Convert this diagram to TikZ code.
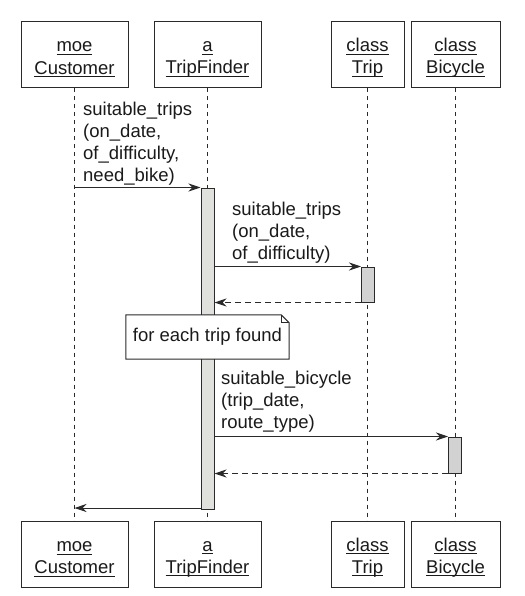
\documentclass[tikz,border=0pt]{standalone}
\usepackage{fontspec}
\setmainfont{Liberation Sans}
\usetikzlibrary{arrows.meta}
\definecolor{ink}{HTML}{2A2A2A}
\definecolor{txt}{HTML}{1A1A1A}
\definecolor{actA}{HTML}{E0E0DC}
\definecolor{actB}{HTML}{D2D2D2}
\newcommand\ulx[1]{\setbox0\hbox{#1}\rlap{\rule[-3pt]{\wd0}{0.9pt}}\box0}
\newcommand\tstr{\rule[-3pt]{0pt}{22.2pt}}
\begin{document}
\begin{tikzpicture}[x=1pt,y=-1pt,
  every node/.style={font=\fontsize{18.5}{22.2}\selectfont, text=txt},
  obj/.style={draw=ink, line width=1pt, fill=white, minimum height=66pt, align=center, inner sep=0pt},
  life/.style={draw=ink, line width=0.8pt, dash pattern=on 4pt off 4pt},
  act/.style={draw=ink, line width=1pt, inner sep=0pt, minimum width=13pt},
  msg/.style={draw=ink, line width=1pt, -{Stealth[length=12pt,width=8pt,inset=4pt]}},
  ret/.style={msg, dash pattern=on 6pt off 4pt},
  lbl/.style={anchor=north west, align=left, inner sep=0pt}]
\useasboundingbox[fill=white] (0,0) rectangle (524,596);
% objects top
\node[obj, minimum width=107pt] (cT) at (74.5,55) {\tstr\ulx{moe}\\\tstr\ulx{Customer}};
\node[obj, minimum width=107pt] (fT) at (207.5,55) {\tstr\ulx{a}\\\tstr\ulx{TripFinder}};
\node[obj, minimum width=73pt] (tT) at (367.5,55) {\tstr\ulx{class}\\\tstr\ulx{Trip}};
\node[obj, minimum width=89pt] (bT) at (455.5,55) {\tstr\ulx{class}\\\tstr\ulx{Bicycle}};
% objects bottom
\node[obj, minimum width=107pt] (cB) at (74.5,554.5) {\tstr\ulx{moe}\\\tstr\ulx{Customer}};
\node[obj, minimum width=107pt] (fB) at (207.5,554.5) {\tstr\ulx{a}\\\tstr\ulx{TripFinder}};
\node[obj, minimum width=73pt] (tB) at (367.5,554.5) {\tstr\ulx{class}\\\tstr\ulx{Trip}};
\node[obj, minimum width=89pt] (bB) at (455.5,554.5) {\tstr\ulx{class}\\\tstr\ulx{Bicycle}};
% lifelines
\draw[life] (cT) -- (cB);
\draw[life] (fT) -- (fB);
\draw[life] (tT) -- (tB);
\draw[life] (bT) -- (bB);
% activations
\node[act, fill=actA, minimum height=321pt] (a1) at (207.5,348.5) {};
\node[act, fill=actB, minimum height=35pt] (a2) at (368,284.5) {};
\node[act, fill=actB, minimum height=36pt] (a3) at (455,455) {};
% messages
\draw[msg] (cT |- a1.north west) -- (a1.north west);
\node[lbl] (l1) at (83,101.7) {suitable\_trips\\(on\_date,\\of\_difficulty,\\need\_bike)};
\draw[msg] (a1.east |- a2.north west) -- (a2.north west);
\node[lbl] (l2) at (232,201.7) {suitable\_trips\\(on\_date,\\of\_difficulty)};
\draw[ret] (a2.south west) -- (a1.east |- a2.south west);
% note
\node[fill=white, minimum width=163pt, minimum height=44pt, inner sep=0pt] (note) at (207.5,337) {for each trip found};
\draw[draw=ink, line width=1pt] (note.north west) -- ([xshift=-8pt]note.north east) -- ([yshift=-8pt]note.north east) -- (note.south east) -- (note.south west) -- cycle;
\draw[draw=ink, line width=0.8pt] ([xshift=-8pt]note.north east) -- ([xshift=-8pt,yshift=-8pt]note.north east) -- ([yshift=-8pt]note.north east);
% bicycle
\draw[msg] (a1.east |- a3.north west) -- (a3.north west);
\node[lbl] (l3) at (221,370.7) {suitable\_bicycle\\(trip\_date,\\route\_type)};
\draw[ret] (a3.south west) -- (a1.east |- a3.south west);
% final return
\coordinate (e1) at ([yshift=1.5pt]a1.south west);
\draw[msg] (e1) -- (cT |- e1);
\end{tikzpicture}
\end{document}
